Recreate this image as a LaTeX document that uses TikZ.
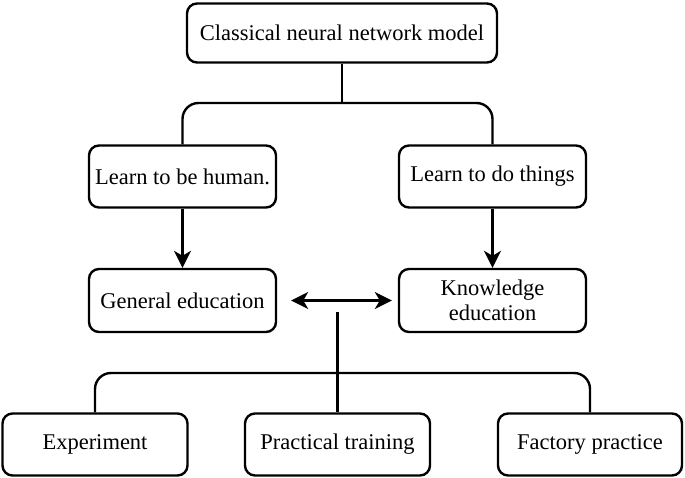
\documentclass[tikz,border=0pt]{standalone}
\usepackage{fontspec}
\setmainfont{Liberation Serif}
\usetikzlibrary{arrows.meta}
\begin{document}
\begin{tikzpicture}[x=1pt,y=-1pt,
  box/.style={draw,line width=2.4pt,rounded corners=10pt,align=center,font=\fontsize{22.5}{25}\selectfont,inner sep=0pt},
  conn/.style={line width=2.4pt,rounded corners=16pt},
  tip/.style={Stealth[length=17pt,width=17pt,inset=5pt]},
  arr/.style={line width=2.4pt,-{Stealth[length=17pt,width=17pt,inset=5pt]}},
  darr/.style={line width=2.4pt,{Stealth[length=17pt,width=17pt,inset=5pt]}-{Stealth[length=17pt,width=17pt,inset=5pt]}}]
\useasboundingbox (0,0) rectangle (685,478);
\node[box,minimum width=310pt,minimum height=59pt] (top) at (342,33) {Classical neural network model};
\node[box,minimum width=187pt,minimum height=62pt] (l1) at (182.5,176.5) {Learn to be human.};
\node[box,minimum width=187pt,minimum height=62pt] (r1) at (492.5,176.5) {Learn to do things};
\node[box,minimum width=187pt,minimum height=63pt] (l2) at (182.5,300.5) {General education};
\node[box,minimum width=187pt,minimum height=63pt] (r2) at (492.5,300.5) {Knowledge\\education};
\node[box,minimum width=185pt,minimum height=62pt] (exp) at (95,444.5) {Experiment};
\node[box,minimum width=185pt,minimum height=62pt] (prac) at (337.5,444.5) {Practical training};
\node[box,minimum width=184pt,minimum height=62pt] (fac) at (590,444.5) {Factory practice};
\coordinate (j1) at (342,103);
\coordinate (j2) at (337.5,373);
\coordinate (c2) at (337.5,312);
\draw[conn] (top.south) -- (j1);
\draw[conn] (l1.north) |- (j1) -| (r1.north);
\draw[arr] (l1.south) -- (l2.north);
\draw[arr] (r1.south) -- (r2.north);
\draw[darr,shorten <=14pt,shorten >=6pt] (l2.east) -- (r2.west);
\draw[conn] (c2) -- (prac.north);
\draw[conn] (exp.north) |- (j2) -| (fac.north);
\end{tikzpicture}
\end{document}
